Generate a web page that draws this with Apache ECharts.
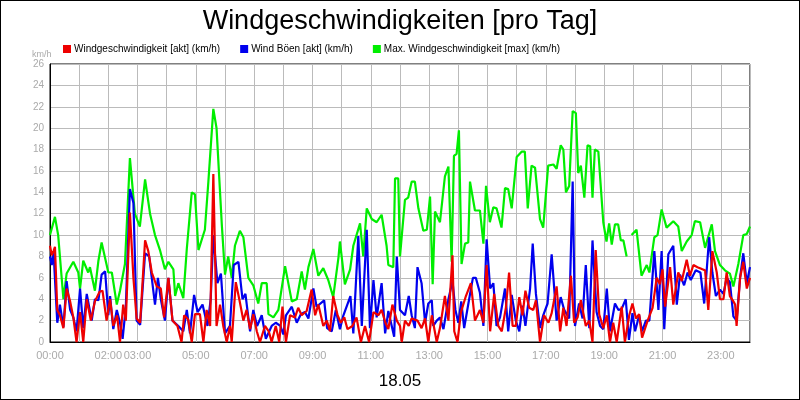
<!DOCTYPE html>
<html><head><meta charset="utf-8">
<script src="https://cdn.jsdelivr.net/npm/echarts@6/dist/echarts.min.js"></script>
<style>html,body{margin:0;padding:0;background:#fff}#c{width:798px;height:398px;border:1px solid #000}</style>
</head><body><div id="c"></div>
<script>
// hour of day, value in km/h
let maxT = [0,0.17,0.28,0.46,0.57,0.8,0.97,1.03,1.14,1.31,1.37,1.54,1.66,1.77,2.0,2.12,2.29,2.4,2.57,2.74,2.91,3.08,3.26,3.43,3.6,3.77,3.94,4.06,4.23,4.29,4.4,4.57,4.69,4.86,4.97,5.09,5.31,5.43,5.6,5.71,5.89,6.0,6.11,6.23,6.34,6.51,6.63,6.8,6.97,7.14,7.26,7.43,7.49,7.66,7.83,8.06,8.29,8.46,8.63,8.74,8.86,9.03,9.2,9.37,9.54,9.71,9.89,9.94,10.11,10.29,10.4,10.63,10.74,10.86,11.03,11.2,11.37,11.54,11.6,11.77,11.83,11.94,12.0,12.17,12.28,12.4,12.51,12.63,12.8,12.92,13.03,13.12,13.2,13.37,13.54,13.66,13.77,13.85,13.94,14.02,14.11,14.23,14.34,14.4,14.57,14.74,14.86,14.95,15.08,15.2,15.31,15.48,15.6,15.71,15.83,16.0,16.17,16.28,16.38,16.51,16.63,16.8,16.91,17.08,17.26,17.37,17.51,17.6,17.69,17.8,17.92,18.03,18.11,18.2,18.32,18.43,18.52,18.6,18.68,18.8,18.97,19.08,19.17,19.26,19.37,19.48,19.57,19.66,19.77,19.85,19.94,20.11,20.28,20.46,20.55,20.72,20.83,20.97,21.14,21.37,21.54,21.66,21.83,22.0,22.11,22.29,22.46,22.69,22.8,22.97,23.14,23.31,23.43,23.6,23.77,23.89,24.0];
let maxV = [10,11.7,10,4,6.4,7.5,6.5,5,7.6,6.5,7,4.8,7.6,9.3,6.5,6.5,3.5,4.8,7.3,17.2,12,10.8,15.2,12,10,8.6,6.8,7.5,6.8,4.3,5.5,4.1,8.7,14,13.8,8.6,10.5,15,21.8,20,11,6.3,8,6,9,10.4,9.8,6,5.3,3.6,5.5,5.5,2.6,2.3,3,7.1,3.8,4,6.6,4.9,7,8.7,6.2,6.9,5.8,4.2,7.9,9.4,5.4,6.8,9,11.1,8,12.5,11.5,11.2,11.9,9,7.2,7,15.3,15.3,8,13.3,13.5,15,15,12.5,10.4,10.5,13.6,5.4,12.2,11.2,15.5,16.4,7.5,17.4,17.6,19.8,7.3,9.2,9.3,15,12.3,12.3,9.2,14.6,11.2,12.6,12.5,10.7,14.4,14.3,12.5,17.3,17.8,17.8,12.5,16.5,16.3,11.5,10.7,16.5,16.6,16.2,18.4,18,14,14.6,21.6,21.4,15.8,16.5,13.5,18.4,18.3,13.5,18,17.8,11.2,9.4,11.1,9.1,11,11,9.5,9.5,8,null,10,10.5,6.2,7.2,6.5,9.8,10,12.4,10.7,11.3,10.8,8.5,9.4,10,11.3,11.2,8.8,11,8.5,7.2,6.7,6.4,5.2,7.3,10,10.1,10.8];

let gustT = [0,0.06,0.12,0.25,0.34,0.46,0.57,0.69,0.8,0.91,1.03,1.14,1.26,1.43,1.54,1.66,1.77,1.89,2.0,2.06,2.17,2.29,2.4,2.49,2.6,2.74,2.86,2.97,3.09,3.26,3.4,3.6,3.7,3.8,3.94,4.06,4.2,4.4,4.57,4.69,4.8,4.94,5.06,5.23,5.4,5.51,5.6,5.74,5.86,6.0,6.17,6.3,6.46,6.6,6.7,6.86,6.97,7.1,7.26,7.4,7.6,7.74,7.9,8.0,8.09,8.29,8.46,8.6,8.74,8.86,9.03,9.14,9.4,9.5,9.66,9.8,9.94,10.06,10.3,10.4,10.57,10.69,10.86,10.97,11.09,11.2,11.37,11.49,11.6,11.8,11.89,12.0,12.17,12.3,12.4,12.51,12.6,12.74,12.86,12.97,13.09,13.14,13.26,13.37,13.49,13.66,13.8,13.9,14.0,14.1,14.2,14.37,14.5,14.6,14.74,14.86,14.97,15.09,15.2,15.31,15.43,15.6,15.71,15.83,15.97,16.09,16.2,16.3,16.46,16.55,16.66,16.8,16.91,17.06,17.2,17.37,17.51,17.63,17.8,17.92,18.0,18.14,18.26,18.37,18.49,18.6,18.74,18.86,18.97,19.09,19.2,19.37,19.49,19.6,19.74,19.85,19.97,20.06,20.2,20.3,20.43,20.55,20.72,20.86,20.97,21.06,21.2,21.37,21.49,21.6,21.74,21.86,21.97,22.14,22.3,22.43,22.6,22.71,22.83,22.97,23.09,23.2,23.31,23.43,23.54,23.66,23.77,23.89,24];
let gustV = [8,7.2,8.5,1.8,3.5,1.4,5.7,3,2.3,1,5,1.3,4.5,2,4,3.9,6.3,6.6,2.5,4.3,1.2,3,1.8,0.3,3.3,14.3,13,2,1.6,8.3,8,3.5,6,4,2,6,2,1.5,1,3,0.8,4.4,2.8,3.5,1.5,4,10,5.5,6.4,0.8,1.5,7.2,7.5,4,4.5,1,3,1.5,2.5,0.3,1.5,1.8,1.5,0.7,2.5,3.3,1.8,2.6,2.8,2.2,5,3.3,3.9,1.3,1,3,1.2,2.5,4.3,0.8,9.9,1.5,10.5,1.3,5.8,2.3,5.5,0.8,2.9,0.5,8,3,2.5,4.3,2.5,1.3,7,5.5,1.8,3.6,3.9,1.5,2,2.3,1.2,4,5.7,3,1.8,3.8,1.3,4,6,6,4.6,1.5,9.6,5,5.5,1.5,2.3,5,1,4.4,2,1,3.4,1.5,5,9.2,4.5,1.3,2.5,3.6,8.2,2,4.2,3,2.2,15,1.5,3.6,2.2,7.2,1.3,9.5,2.8,1.5,1.2,5,1,3.6,3,3.1,4,0.2,2.7,1,2.5,1,2,2,8.5,3,8.5,1.2,8.2,9,3.5,6.3,5.3,6.5,5.8,6.7,6.5,3.6,9.8,6.5,4.3,4.9,4.5,6,5.6,2.4,2,6,8.3,5.5,7];

let windT = [0,0.06,0.12,0.17,0.25,0.34,0.46,0.57,0.69,0.8,0.91,1.03,1.14,1.26,1.4,1.54,1.7,1.8,1.94,2.06,2.17,2.3,2.4,2.51,2.6,2.74,2.86,2.97,3.09,3.26,3.37,3.49,3.66,3.8,3.91,4.06,4.2,4.37,4.51,4.6,4.74,4.86,4.97,5.14,5.26,5.37,5.49,5.6,5.71,5.83,5.94,6.06,6.17,6.23,6.37,6.49,6.63,6.74,6.86,6.97,7.09,7.2,7.37,7.5,7.6,7.74,7.86,7.97,8.09,8.23,8.4,8.51,8.63,8.8,8.97,9.09,9.2,9.37,9.49,9.6,9.71,9.86,9.97,10.09,10.2,10.37,10.51,10.66,10.8,10.94,11.09,11.26,11.37,11.5,11.6,11.74,11.89,12.0,12.06,12.17,12.3,12.4,12.6,12.74,12.86,12.97,13.09,13.26,13.37,13.54,13.66,13.8,13.86,13.97,14.09,14.26,14.43,14.57,14.74,14.86,14.97,15.09,15.23,15.37,15.49,15.63,15.74,15.86,15.97,16.09,16.2,16.3,16.43,16.57,16.66,16.8,16.94,17.09,17.2,17.37,17.49,17.6,17.71,17.86,17.97,18.09,18.2,18.37,18.49,18.6,18.71,18.83,18.97,19.09,19.2,19.31,19.43,19.6,19.71,19.86,19.97,20.09,20.2,20.3,20.49,20.66,20.8,20.91,21.0,21.09,21.26,21.37,21.54,21.66,21.83,21.94,22.06,22.2,22.37,22.46,22.57,22.71,22.86,22.97,23.09,23.2,23.31,23.43,23.49,23.54,23.66,23.77,23.89,24];
let windV = [9,8.1,8.5,8.9,3,2.5,1.3,5,3.8,2.3,0,2.8,0,4,2,3.8,4.7,4.8,2,4,1.5,2.5,0,3.5,2,12.1,6,2.2,1.8,9.5,8.5,6.5,5.2,5,2.3,6,2,1.5,0,2.5,2.1,0,2.6,2.6,0,3,1.5,15.7,1.5,3.5,1.5,0,1.5,0,5.6,4,2,3,1.2,2.6,1,0,1.5,1,0,1.5,0,3.3,0,2.5,2.3,3.2,2.5,2.9,4.9,2.5,3.5,1.5,2,1,4.3,2.5,1.8,2.3,1.2,1.5,2.3,0,1.5,0,2.8,2.5,3,1.8,1.2,3.5,2,1.5,0,2,1.5,2.2,2,1.3,2.2,0,2.5,0,1.3,4.3,2,8.1,1,0,2.8,4.3,5.5,2,3,1.8,7.2,1,4.5,1.5,1,3.2,6.5,1.5,1.5,4.2,2.5,4.8,3.2,3,3.9,0,2.5,1.8,2.7,5.2,1,3.2,1.5,6.2,1.8,2.3,3.9,1.5,2,0,8.6,2.6,1.3,2.5,0,1.8,0,3.3,0,2.5,3.6,2.2,2.6,0.4,2,3.2,6,5.4,6.8,3.3,7,3.5,6.5,5.7,7.7,6.2,7.2,7,6.8,6.7,3,8.5,6.5,4,4,6.5,4.3,3.8,3.5,1.5,6,7.5,5,6];

let hourLabels = [0,2,3,5,7,9,11,13,15,17,19,21,23];
let names = ["Windgeschwindigkeit [akt] (km/h)", "Wind Böen [akt] (km/h)", "Max. Windgeschwindigkeit [max] (km/h)"];

function zip(t, v) { return t.map((x, i) => [x, v[i]]); }
function hh(h) { return (h < 10 ? "0" : "") + h + ":00"; }

let line = (name, color, t, v) => ({
  name: name, type: "line", data: zip(t, v), symbol: "none",
  lineStyle: { color: color, width: 2.2 }, itemStyle: { color: color }, animation: false
});

let chart = echarts.init(document.getElementById("c"));
chart.setOption({
  animation: false,
  textStyle: { fontFamily: "Liberation Sans, Arial, sans-serif" },
  title: [
    { text: "Windgeschwindigkeiten [pro Tag]", left: "center", top: 2,
      textStyle: { fontSize: 27, fontWeight: "normal", color: "#000" } },
    { text: "18.05", left: "center", top: 367,
      textStyle: { fontSize: 17, fontWeight: "normal", color: "#000" } },
    { text: "km/h", left: 26, top: 44, textStyle: { fontSize: 9, fontWeight: "normal", color: "#aaa" } }
  ],
  legend: {
    left: 57, top: 38, itemWidth: 8, itemHeight: 8, itemGap: 20, icon: "rect",
    textStyle: { fontSize: 10, color: "#000", padding: [0, 0, 0, -2] },
    data: names
  },
  grid: { left: 49, right: 49, top: 63, bottom: 57, show: true, borderColor: "#000", borderWidth: 1 },
  xAxis: {
    type: "value", min: 0, max: 24, interval: 1,
    axisLine: { lineStyle: { color: "#000" } }, axisTick: { show: false },
    splitLine: { lineStyle: { color: "#bbb" } },
    axisLabel: { color: "#aaa", fontSize: 11, showMaxLabel: false,
      formatter: v => hourLabels.indexOf(v) >= 0 ? hh(v) : "" }
  },
  yAxis: {
    type: "value", min: 0, max: 26, interval: 2,
    axisLine: { show: true, lineStyle: { color: "#000" } }, axisTick: { show: false },
    splitLine: { lineStyle: { color: "#bbb" } },
    axisLabel: { color: "#aaa", fontSize: 10, margin: 6 }
  },
  series: [
    line(names[2], "#00ee00", maxT, maxV),
    line(names[1], "#0000ee", gustT, gustV),
    line(names[0], "#ee0000", windT, windV)
  ]
});
</script></body></html>
